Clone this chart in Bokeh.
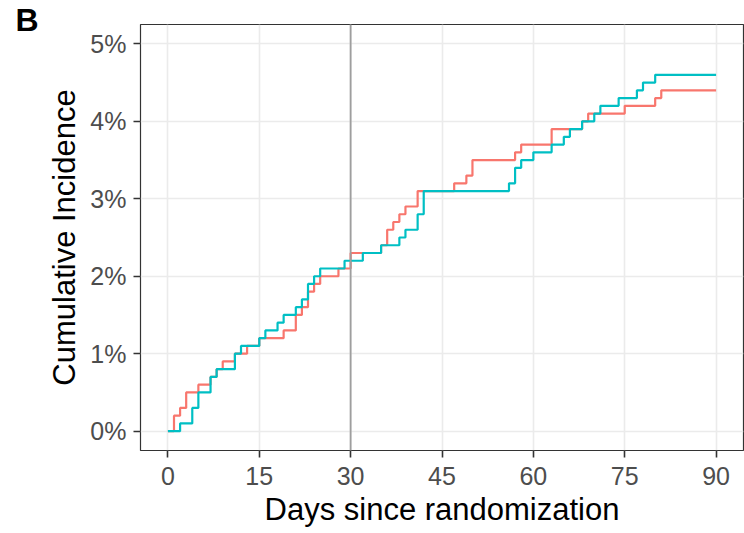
from bokeh.plotting import figure
from bokeh.models import FixedTicker, PrintfTickFormatter, Span, Title
from bokeh.embed import file_html
from bokeh.resources import INLINE

# Cumulative incidence (%) step curves: day of event -> cumulative value
red_days = [0, 1, 2, 3, 5, 7, 8, 9, 11, 13, 15, 19, 21, 22, 23, 24, 25, 28, 30,
            35, 36, 37, 38, 39, 41, 47, 49, 50, 57, 58, 63, 68, 69, 75, 80, 81, 90]
red_vals = [0, 0.2, 0.3, 0.5, 0.6, 0.7, 0.8, 0.9, 1.0, 1.1, 1.2, 1.3, 1.5, 1.6, 1.8, 1.9, 2.0, 2.1, 2.3,
            2.4, 2.6, 2.7, 2.8, 2.9, 3.1, 3.2, 3.3, 3.5, 3.6, 3.7, 3.9, 4.0, 4.1, 4.2, 4.3, 4.4, 4.4]

cyan_days = [0, 2, 4, 5, 7, 8, 11, 12, 15, 16, 18, 19, 21, 22, 23, 24, 25, 29, 32, 35, 38, 39, 41, 42,
             56, 57, 58, 60, 63, 65, 66, 68, 70, 71, 74, 77, 78, 80, 90]
cyan_vals = [0, 0.1, 0.3, 0.5, 0.7, 0.8, 1.0, 1.1, 1.2, 1.3, 1.4, 1.5, 1.6, 1.7, 1.9, 2.0, 2.1, 2.2, 2.3, 2.4, 2.5, 2.6, 2.8, 3.1,
             3.2, 3.4, 3.5, 3.6, 3.7, 3.8, 3.9, 4.0, 4.1, 4.2, 4.3, 4.4, 4.5, 4.6, 4.6]

x_ticks = [0, 15, 30, 45, 60, 75, 90]
y_ticks = [0, 1, 2, 3, 4, 5]
landmark_day = 30
panel_tag = "B"

FONT = "Liberation Sans"

p = figure(frame_width=603, frame_height=426,
           x_range=(-4.5, 94.5), y_range=(-0.25, 5.25),
           output_backend="svg", toolbar_location=None,
           min_border_left=140, min_border_right=1,
           min_border_top=24, min_border_bottom=83,
           background_fill_color="white", border_fill_color="white")

p.outline_line_color = "#333333"
p.outline_line_width = 1.2

for ax in (p.xaxis[0], p.yaxis[0]):
    ax.axis_line_color = None
    ax.major_tick_line_color = "#333333"
    ax.major_tick_line_width = 1.6
    ax.major_tick_out = 7
    ax.major_tick_in = 0
    ax.minor_tick_line_color = None
    ax.major_label_text_font = FONT
    ax.major_label_text_font_size = "25px"
    ax.major_label_text_color = "#4D4D4D"
    ax.axis_label_text_font = FONT
    ax.axis_label_text_font_size = "31px"
    ax.axis_label_text_font_style = "normal"
    ax.axis_label_text_color = "black"

p.xaxis.ticker = FixedTicker(ticks=x_ticks)
p.yaxis.ticker = FixedTicker(ticks=y_ticks)
p.yaxis.formatter = PrintfTickFormatter(format="%d%%")
p.xaxis.axis_label = "Days since randomization"
p.yaxis.axis_label = "Cumulative Incidence"
p.xaxis.major_label_standoff = 9
p.yaxis.major_label_standoff = 7
p.xaxis.axis_label_standoff = 4
p.yaxis.axis_label_standoff = 5

p.xgrid.grid_line_color = "#EBEBEB"
p.ygrid.grid_line_color = "#EBEBEB"
p.xgrid.grid_line_width = 1.6
p.ygrid.grid_line_width = 1.6

p.add_layout(Span(location=landmark_day, dimension="height",
                  line_color="#9E9E9E", line_width=1.8))

p.step(red_days, red_vals, mode="after", line_color="#F8766D", line_width=2.2)
p.step(cyan_days, cyan_vals, mode="after", line_color="#00BFC4", line_width=2.2)

p.add_layout(Title(text=panel_tag, text_font=FONT, text_font_size="32px",
                   text_font_style="bold", text_color="black",
                   align="left", offset=-125, standoff=-26,
                   vertical_align="bottom"), "above")

open("out.html", "w").write(file_html(p, INLINE))
